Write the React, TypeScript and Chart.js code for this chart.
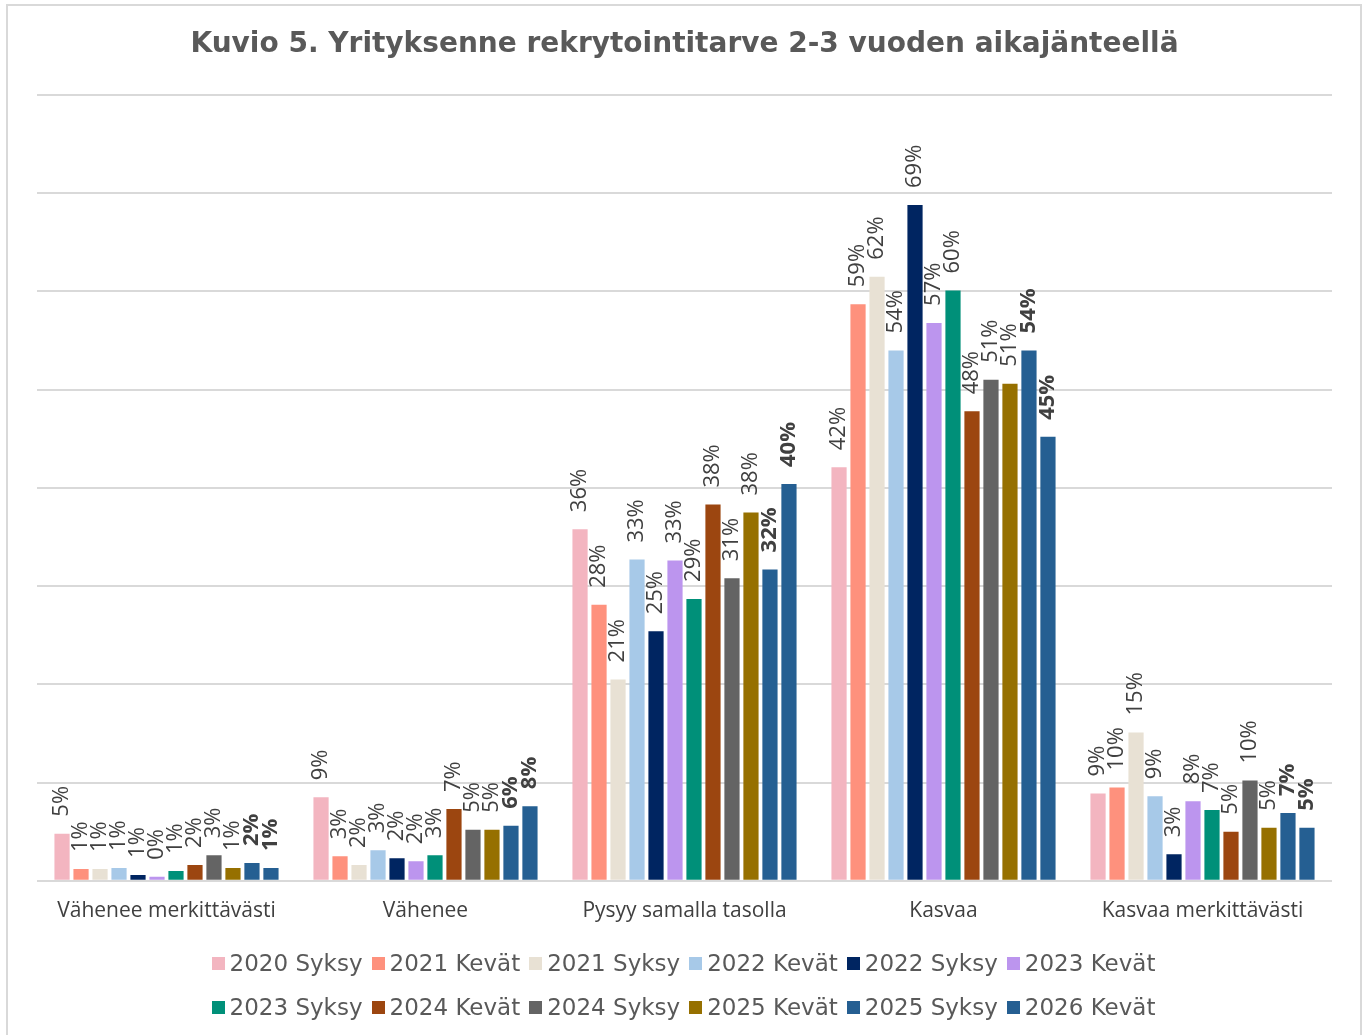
import React, { useEffect, useRef } from "react";
import { Chart, registerables } from "chart.js";

Chart.register(...registerables);

const TITLE = "Kuvio 5. Yrityksenne rekrytointitarve 2-3 vuoden aikajänteellä";

const categories = [
  "Vähenee merkittävästi",
  "Vähenee",
  "Pysyy samalla tasolla",
  "Kasvaa",
  "Kasvaa merkittävästi",
];

const seriesNames = [
  "2020 Syksy",
  "2021 Kevät",
  "2021 Syksy",
  "2022 Kevät",
  "2022 Syksy",
  "2023 Kevät",
  "2023 Syksy",
  "2024 Kevät",
  "2024 Syksy",
  "2025 Kevät",
  "2025 Syksy",
  "2026 Kevät",
];

const seriesColors = [
  "#F3B5C0",
  "#FE917D",
  "#E8E1D4",
  "#A7C9E8",
  "#002561",
  "#BC95EE",
  "#009079",
  "#9C4610",
  "#646464",
  "#967000",
  "#255F92",
  "#255F92",
];

const boldLabelSeries = [false, false, false, false, false, false, false, false, false, false, true, true];

// values in %, per series, across the 5 categories
const s2020Syksy = [4.8, 8.5, 35.8, 42.1, 8.9];
const s2021Kevat = [1.2, 2.5, 28.1, 58.7, 9.5];
const s2021Syksy = [1.2, 1.6, 20.5, 61.5, 15.1];
const s2022Kevat = [1.3, 3.1, 32.7, 54.0, 8.6];
const s2022Syksy = [0.6, 2.3, 25.4, 68.8, 2.7];
const s2023Kevat = [0.4, 2.0, 32.6, 56.8, 8.1];
const s2023Syksy = [1.0, 2.6, 28.7, 60.1, 7.2];
const s2024Kevat = [1.6, 7.3, 38.3, 47.8, 5.0];
const s2024Syksy = [2.6, 5.2, 30.8, 51.0, 10.2];
const s2025Kevat = [1.3, 5.2, 37.5, 50.6, 5.4];
const s2025Syksy = [1.8, 5.6, 31.7, 54.0, 6.9];
const s2026Kevat = [1.3, 7.6, 40.4, 45.2, 5.4];

const seriesValues = [
  s2020Syksy, s2021Kevat, s2021Syksy, s2022Kevat, s2022Syksy, s2023Kevat,
  s2023Syksy, s2024Kevat, s2024Syksy, s2025Kevat, s2025Syksy, s2026Kevat,
];

const yMax = 80;
const yStep = 10;

const LABEL_COLOR = "#404040";
const TEXT_GRAY = "#595959";
const GRID = "#D9D9D9";

const valueLabelPlugin = {
  id: "valueLabels",
  afterDatasetsDraw(chart: any) {
    const ctx = chart.ctx;
    chart.data.datasets.forEach((ds: any, di: number) => {
      const meta = chart.getDatasetMeta(di);
      if (meta.hidden) return;
      meta.data.forEach((el: any, i: number) => {
        const v = ds.data[i];
        const txt = Math.round(v) + "%";
        ctx.save();
        ctx.translate(el.x, el.y - 17);
        ctx.rotate(-Math.PI / 2);
        ctx.font = (boldLabelSeries[di] ? "bold " : "") + "22px 'Open Sans'";
        ctx.fillStyle = LABEL_COLOR;
        ctx.textAlign = "left";
        ctx.textBaseline = "middle";
        ctx.fillText(txt, 0, 0);
        ctx.restore();
      });
    });
  },
};

function ChartCanvas() {
  const ref = useRef<HTMLCanvasElement | null>(null);
  useEffect(() => {
    if (!ref.current) return;
    const chart = new Chart(ref.current, {
      type: "bar",
      data: {
        labels: categories,
        datasets: seriesNames.map((name, i) => ({
          label: name,
          data: seriesValues[i],
          backgroundColor: seriesColors[i],
          borderWidth: 0,
          categoryPercentage: 0.88,
          barPercentage: 0.8,
        })),
      },
      options: {
        animation: false,
        responsive: false,
        maintainAspectRatio: false,
        layout: { padding: { left: 37, right: 35, top: 0, bottom: 3 } },
        plugins: {
          legend: { display: false },
          tooltip: { enabled: false },
          title: {
            display: true,
            text: TITLE,
            color: TEXT_GRAY,
            font: { family: "'DejaVu Sans'", size: 28, weight: "bold" },
            padding: { top: 28, bottom: 33.4 },
          },
        },
        scales: {
          x: {
            grid: { display: false, drawTicks: false },
            border: { display: false },
            ticks: {
              color: LABEL_COLOR,
              font: { family: "'Open Sans'", size: 21 },
              padding: 18,
            },
          },
          y: {
            min: 0,
            max: yMax,
            ticks: { display: false, stepSize: yStep },
            grid: { color: GRID, lineWidth: 2, drawTicks: false },
            border: { display: false },
          },
        },
      },
      plugins: [valueLabelPlugin],
    });
    return () => chart.destroy();
  }, []);
  return <canvas ref={ref} width={1367} height={945} style={{ position: "absolute", left: 0, top: 0, width: 1367, height: 945 }} />;
}

function Legend() {
  const rows = [seriesNames.slice(0, 6), seriesNames.slice(6, 12)];
  return (
    <div style={{ position: "absolute", left: 0, top: 941, width: 1367 }}>
      {rows.map((row, ri) => (
        <div
          key={ri}
          style={{
            display: "flex",
            justifyContent: "center",
            alignItems: "center",
            height: 44,
          }}
        >
          {row.map((name, j) => {
            const idx = ri * 6 + j;
            return (
              <div key={name} style={{ display: "flex", alignItems: "center", marginRight: j === row.length - 1 ? 0 : 9 }}>
                <span style={{ display: "inline-block", width: 13, height: 13, background: seriesColors[idx], marginRight: 5 }} />
                <span style={{ fontFamily: "'DejaVu Sans'", fontSize: 23, color: TEXT_GRAY, whiteSpace: "nowrap" }}>{name}</span>
              </div>
            );
          })}
        </div>
      ))}
    </div>
  );
}

export default function App() {
  return (
    <div style={{ position: "fixed", left: 0, top: 0, width: 1367, height: 1035, background: "#fff", overflow: "hidden" }}>
      <div style={{ position: "absolute", left: 6, top: 4, width: 1356, height: 1040, border: "2px solid #D9D9D9", boxSizing: "border-box" }} />
      <ChartCanvas />
      <Legend />
    </div>
  );
}
